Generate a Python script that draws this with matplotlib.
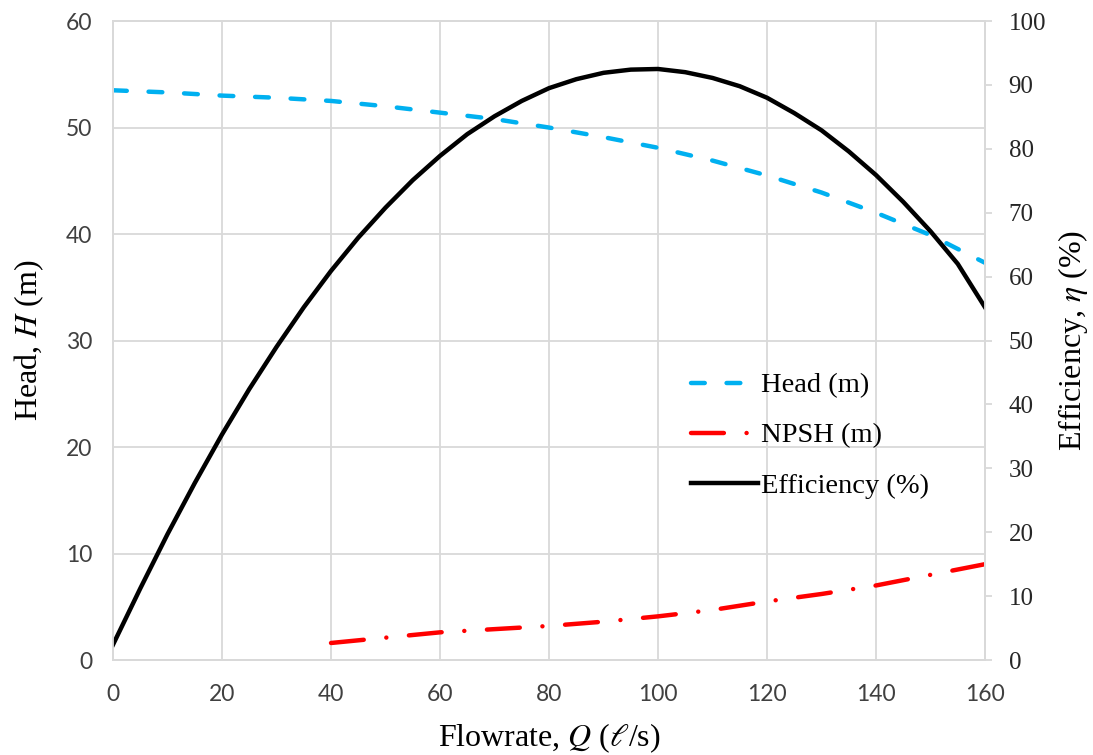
import matplotlib
matplotlib.use("Agg")
import matplotlib.pyplot as plt

# ---- data ----
q_head = [0, 10, 20, 30, 40, 50, 60, 70, 80, 90, 100, 110, 120, 130, 140, 150, 160]
head = [53.5, 53.3, 53.0, 52.8, 52.5, 52.0, 51.4, 50.8, 50.0, 49.1, 48.1, 46.9, 45.5, 43.9, 42.0, 39.9, 37.3]

q_npsh = [40, 50, 60, 70, 80, 90, 100, 110, 120, 130, 140, 150, 160]
npsh = [1.6, 2.1, 2.6, 2.9, 3.2, 3.6, 4.1, 4.7, 5.5, 6.2, 7.0, 8.0, 9.0]

q_eff = [0, 5, 10, 15, 20, 25, 30, 35, 40, 45, 50, 55, 60, 65, 70, 75, 80, 85, 90, 95, 100,
         105, 110, 115, 120, 125, 130, 135, 140, 145, 150, 155, 160]
eff = [2.4, 11.2, 19.7, 27.7, 35.3, 42.4, 49.0, 55.2, 60.9, 66.1, 70.8, 75.1, 78.9, 82.3, 85.1,
       87.5, 89.5, 90.9, 91.9, 92.4, 92.5, 92.0, 91.1, 89.8, 88.0, 85.6, 82.9, 79.6, 75.9,
       71.7, 67.1, 62.0, 55.2]

x_ticks = [0, 20, 40, 60, 80, 100, 120, 140, 160]
left_ticks = [0, 10, 20, 30, 40, 50, 60]
right_ticks = [0, 10, 20, 30, 40, 50, 60, 70, 80, 90, 100]

labels = ["Head (m)", "NPSH (m)", "Efficiency (%)"]

plt.rcParams['mathtext.fontset'] = 'stix'
serif = 'Liberation Serif'
tickfont = 'Lato'
grid_c = '#d9d9d9'
tick_c = '#404040'

fig = plt.figure(figsize=(10.93, 7.55), dpi=100)
ax = fig.add_axes([0.1034, 0.1258, 0.7978, 0.8463])
ax2 = ax.twinx()

ax.set_xlim(0, 160)
ax.set_ylim(0, 60)
ax2.set_ylim(0, 100)
ax.set_xticks(x_ticks)
ax.set_yticks(left_ticks)
ax2.set_yticks(right_ticks)

ax.grid(True, color=grid_c, linewidth=1.3)
ax.set_axisbelow(True)
for a in (ax, ax2):
    for s in a.spines.values():
        s.set_color(grid_c)
        s.set_linewidth(1.3)

ax.tick_params(axis='y', length=0, labelsize=16.5, labelcolor=tick_c, pad=15)
ax.tick_params(axis='x', length=0, labelsize=16.5, labelcolor=tick_c, pad=17)
ax2.tick_params(axis='y', length=5, width=1.3, color=grid_c, labelsize=18, labelcolor='#262626', pad=12)
for lab in ax.get_xticklabels() + ax.get_yticklabels():
    lab.set_fontfamily(tickfont)
for lab in ax2.get_yticklabels():
    lab.set_fontfamily(serif)

h1, = ax.plot(q_head, head, color='#00B0F0', linewidth=3.2, linestyle=(0, (3.1, 4.9)),
              dash_capstyle='round')
h2, = ax.plot(q_npsh, npsh, color='#FF0000', linewidth=3.2, linestyle=(0, (7.4, 5.1, 0.01, 5.1)),
              dash_capstyle='round')
h3, = ax2.plot(q_eff, eff, color='black', linewidth=3.2, solid_joinstyle='round')

ax.set_xlabel("Flowrate, $Q$ ($\\ell$/s)", fontfamily=serif, fontsize=23, labelpad=12)
ax.set_ylabel("Head, $H$ (m)", fontfamily=serif, fontsize=23, labelpad=14)
ax2.set_ylabel("Efficiency, $\\eta$ (%)", fontfamily=serif, fontsize=23, labelpad=7)

leg = ax.legend([h1, h2, h3], labels, loc='upper left', bbox_to_anchor=(0.634, 0.49),
                frameon=False, handlelength=2.35, labelspacing=0.85, handletextpad=0.1,
                prop={'family': serif, 'size': 20.5})

fig.savefig("out.png", dpi=100)
